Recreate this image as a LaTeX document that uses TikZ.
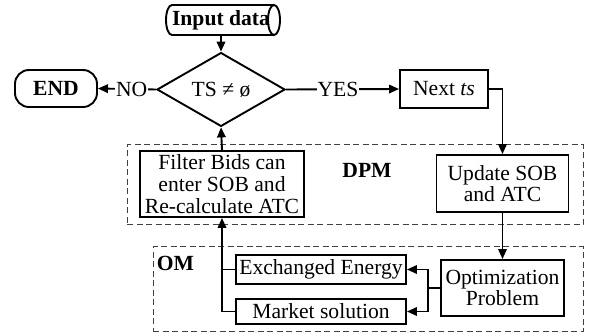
\documentclass[tikz,border=0pt]{standalone}
\usepackage{fontspec}
\setmainfont{Liberation Serif}
\usetikzlibrary{shapes.geometric,arrows.meta}
\begin{document}
\begin{tikzpicture}[x=1pt,y=1pt,
  font=\fontsize{21.6}{21.7}\selectfont,
  box/.style={draw, line width=1.9pt, rectangle, inner sep=0pt, align=center},
  dashbox/.style={draw=black!75, line width=1pt, dash pattern=on 6pt off 3.5pt, inner sep=0pt},
  conn/.style={line width=1.9pt},
  arr/.style={conn, -{Triangle[length=10pt,width=8.5pt]}},
  lbl/.style={fill=white, inner sep=1pt}]
\useasboundingbox (0,0) rectangle (590,-334);
% dashed groups
\node[dashbox, minimum width=456pt, minimum height=80pt] (dpmbox) at (355,-185) {};
\node[dashbox, minimum width=430pt, minimum height=85pt] (ombox) at (368,-289.5) {};
% input data
\node[inner sep=0pt, minimum height=30pt] (input) at (221,-20) {\textbf{Input data}};
\draw[line width=1.9pt] (172,-5) -- (274,-5) arc[start angle=90,end angle=-90,x radius=6,y radius=15]
  -- (172,-35) arc[start angle=270,end angle=90,x radius=6,y radius=15] -- cycle;
\draw[line width=1.9pt] (274,-5) arc[start angle=90,end angle=270,x radius=6,y radius=15];
% decision
\node[diamond, draw, line width=1.9pt, minimum width=128pt, minimum height=55pt, inner sep=0pt] (dec) at (221,-89.5) {TS ≠ ø};
% end
\node[box, rounded corners=14pt, minimum width=82pt, minimum height=37pt] (end) at (56,-88.5) {\textbf{END}};
% next ts
\node[box, minimum width=88pt, minimum height=38pt] (next) at (444,-89) {Next \textit{ts}};
% update
\node[box, minimum width=132pt, minimum height=57pt] (update) at (502.5,-183.5) {Update SOB\\and ATC};
% filter
\node[box, minimum width=164pt, minimum height=66pt] (filter) at (222,-184) {Filter Bids can\\enter SOB and\\Re-calculate ATC};
\node (dpm) at (367,-170) {\textbf{DPM}};
% OM
\node (om) at (175.5,-263) {\textbf{OM}};
\node[box, minimum width=123pt, minimum height=56pt] (opt) at (502.5,-288) {Optimization\\Problem};
\node[box, minimum width=170pt, minimum height=29pt] (exch) at (321,-269.5) {Exchanged Energy};
\node[box, minimum width=170pt, minimum height=25pt] (mkt) at (321,-311.5) {Market solution};
% connectors
\draw[arr] (input.south) -- (dec.north);
\draw[arr] (dec.west) -- node[lbl, pos=0.42] {NO} (end.east);
\draw[arr] (dec.east) -- node[lbl, pos=0.46] {YES} (next.west);
\draw[arr] (next.east) -| (update.north);
\draw[arr] (update.south) -- (opt.north);
\coordinate (br) at (428,-288);
\draw[conn] (opt.west) -- (br);
\draw[arr] (br) |- (exch.east);
\draw[arr] (br) |- (mkt.east);
\coordinate (bl) at (222,-269.5);
\draw[conn] (exch.west) -- (bl);
\draw[arr] (mkt.west) -| (filter.south);
\draw[arr] (filter.north) -- (dec.south);
\end{tikzpicture}
\end{document}
